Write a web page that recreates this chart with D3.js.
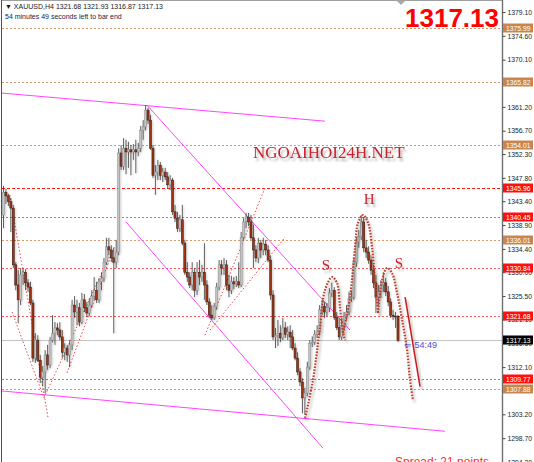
<!DOCTYPE html>
<html>
<head>
<meta charset="utf-8">
<script src="https://cdn.jsdelivr.net/npm/d3@7"></script>
<style>
body { margin: 0; background: #fff; }
svg { display: block; }
</style>
</head>
<body>
<div id="chart"></div>
<script>
// XAUUSD H4 candles, oldest first
var opens = [1340.8,1345.1,1344.4,1343.3,1342.1,1331.4,1327.6,1324.8,1329.5,1330.0,1328.0,1327.2,1324.2,1313.8,1317.2,1313.4,1310.2,1311.2,1314.4,1312.5,1317.2,1318.5,1319.5,1319.1,1317.8,1314.9,1315.7,1314.4,1316.3,1323.8,1322.5,1323.3,1320.6,1324.8,1323.3,1322.3,1323.8,1325.5,1326.6,1324.8,1328.2,1328.9,1331.9,1334.8,1334.2,1332.7,1331.9,1333.8,1352.5,1350.0,1353.4,1352.7,1353.1,1352.7,1353.1,1352.7,1353.4,1356.8,1357.4,1360.6,1358.7,1353.4,1348.3,1348.9,1350.2,1348.3,1348.9,1348.0,1346.5,1347.4,1341.4,1340.2,1338.3,1339.9,1335.5,1330.0,1329.1,1327.6,1330.0,1326.6,1330.0,1329.1,1330.0,1327.6,1324.4,1321.9,1321.4,1323.5,1327.2,1331.4,1330.8,1331.4,1327.6,1326.6,1328.2,1327.8,1328.2,1327.6,1336.6,1339.5,1340.4,1339.5,1336.5,1334.2,1332.7,1335.5,1334.2,1335.3,1334.2,1332.3,1325.7,1317.8,1318.1,1318.5,1317.6,1319.5,1318.3,1318.7,1317.8,1315.7,1313.8,1311.2,1309.3,1306.3,1307.2,1312.1,1316.6,1316.8,1318.3,1318.7,1322.9,1323.5,1322.5,1323.3,1326.1,1326.6,1321.5,1319.6,1317.8,1320.0,1321.7,1322.5,1325.1,1325.3,1331.9,1335.7,1336.8,1339.5,1334.6,1333.8,1332.3,1330.4,1328.0,1325.3,1326.3,1327.6,1328.0,1326.3,1324.4,1321.9,1321.7,1321.68];
var highs = [1346.3,1345.7,1344.8,1344.0,1342.7,1331.9,1330.4,1330.8,1330.8,1330.6,1328.7,1328.2,1324.8,1318.5,1318.1,1314.4,1312.3,1315.3,1316.3,1317.8,1321.9,1320.6,1320.4,1320.6,1319.1,1316.6,1316.3,1317.2,1324.8,1325.5,1324.8,1324.2,1326.1,1325.9,1324.4,1325.1,1326.6,1329.1,1328.2,1328.9,1330.0,1332.7,1336.5,1336.5,1335.1,1334.6,1336.1,1353.4,1354.0,1355.3,1355.0,1354.6,1354.0,1354.2,1355.0,1354.4,1357.6,1358.7,1361.5,1361.0,1359.7,1354.0,1350.2,1351.2,1350.8,1349.7,1349.7,1348.9,1348.3,1347.8,1342.7,1341.4,1340.8,1342.7,1336.1,1331.9,1330.0,1331.9,1330.8,1331.9,1332.3,1331.4,1335.5,1328.5,1325.1,1323.8,1324.2,1328.0,1332.3,1332.3,1332.7,1332.3,1329.5,1329.3,1329.1,1329.3,1331.9,1337.6,1340.2,1341.2,1341.2,1340.8,1339.0,1335.1,1336.5,1336.1,1336.5,1336.1,1335.1,1333.1,1326.6,1319.5,1321.0,1320.0,1321.4,1320.6,1319.8,1320.0,1319.1,1316.6,1314.9,1311.9,1310.0,1308.2,1313.1,1317.2,1317.9,1319.1,1320.0,1323.8,1324.8,1324.4,1324.2,1327.0,1328.0,1327.2,1322.5,1321.4,1321.4,1322.5,1323.8,1326.3,1326.6,1332.7,1336.5,1338.0,1340.8,1340.4,1336.1,1334.9,1333.2,1331.4,1329.5,1327.6,1328.5,1330.0,1328.9,1327.4,1325.1,1322.9,1322.5,1321.93];
var lows = [1338.3,1342.9,1342.5,1337.6,1330.8,1326.6,1320.4,1323.8,1327.6,1326.6,1326.3,1323.8,1313.1,1312.9,1313.1,1309.1,1308.5,1307.2,1311.6,1311.9,1316.8,1316.3,1318.1,1317.2,1313.8,1313.4,1313.1,1312.1,1315.3,1321.4,1320.0,1319.8,1320.2,1322.5,1321.5,1321.7,1323.3,1324.8,1324.2,1324.2,1326.6,1328.2,1331.4,1333.2,1331.9,1318.5,1330.8,1333.2,1349.3,1349.3,1348.5,1349.7,1348.3,1351.2,1348.7,1351.9,1352.7,1355.0,1356.8,1358.0,1353.1,1347.8,1344.6,1347.4,1347.4,1347.0,1347.4,1345.9,1345.5,1340.8,1339.5,1337.6,1337.6,1335.1,1329.5,1328.2,1327.0,1326.6,1325.3,1325.7,1327.6,1328.2,1324.8,1323.8,1321.4,1321.0,1321.0,1322.9,1326.6,1329.5,1329.5,1326.6,1325.3,1325.9,1326.8,1327.2,1327.0,1327.2,1336.1,1338.3,1338.7,1336.1,1330.8,1331.9,1331.7,1332.7,1333.2,1333.2,1331.9,1324.8,1317.2,1315.7,1316.1,1316.8,1317.2,1317.6,1317.2,1315.7,1315.3,1313.4,1310.6,1308.5,1303.4,1303.1,1306.6,1311.6,1315.9,1316.3,1317.6,1318.1,1321.9,1321.4,1321.7,1322.5,1325.3,1321.0,1319.1,1317.2,1317.2,1319.1,1321.0,1321.9,1324.4,1324.8,1331.0,1334.6,1336.1,1333.8,1332.7,1331.6,1329.5,1327.0,1322.3,1323.8,1325.1,1326.3,1325.5,1323.6,1321.4,1321.0,1319.5,1316.87];
var closes = [1345.1,1344.4,1343.3,1342.1,1331.4,1327.6,1324.8,1329.5,1330.0,1328.0,1327.2,1324.2,1313.8,1317.2,1313.4,1310.2,1311.2,1314.4,1312.5,1317.2,1318.5,1319.5,1319.1,1317.8,1314.9,1315.7,1314.4,1316.3,1323.8,1322.5,1323.3,1320.6,1324.8,1323.3,1322.3,1323.8,1325.5,1326.6,1324.8,1328.2,1328.9,1331.9,1334.8,1334.2,1332.7,1331.9,1333.8,1352.5,1350.0,1353.4,1352.7,1353.1,1352.7,1353.1,1352.7,1353.4,1356.8,1357.4,1360.6,1358.7,1353.4,1348.3,1348.9,1350.2,1348.3,1348.9,1348.0,1346.5,1347.4,1341.4,1340.2,1338.3,1339.9,1335.5,1330.0,1329.1,1327.6,1330.0,1326.6,1330.0,1329.1,1330.0,1327.6,1324.4,1321.9,1321.4,1323.5,1327.2,1331.4,1330.8,1331.4,1327.6,1326.6,1328.2,1327.8,1328.2,1327.6,1336.6,1339.5,1340.4,1339.5,1336.5,1334.2,1332.7,1335.5,1334.2,1335.3,1334.2,1332.3,1325.7,1317.8,1318.1,1318.5,1317.6,1319.5,1318.3,1318.7,1317.8,1315.7,1313.8,1311.2,1309.3,1306.3,1307.2,1312.1,1316.6,1316.8,1318.3,1318.7,1322.9,1323.5,1322.5,1323.3,1326.1,1326.6,1321.5,1319.6,1317.8,1320.0,1321.7,1322.5,1325.1,1325.3,1331.9,1335.7,1336.8,1339.5,1334.6,1333.8,1332.3,1330.4,1328.0,1325.3,1326.3,1327.6,1328.0,1326.3,1324.4,1321.9,1321.7,1321.68,1317.13];

// price scale tick labels
var axisTicks = [1379.10,1374.60,1370.10,1365.70,1361.20,1356.70,1352.30,1347.80,1343.40,1338.90,1334.40,1330.00,1325.50,1321.10,1316.60,1312.10,1307.70,1303.20,1298.70,1294.20];

// horizontal levels: "s" = tan, "r" = red
var levelPrices = [1375.99,1365.82,1354.01,1345.96,1340.45,1336.01,1330.84,1321.68,1309.77,1307.88];
var levelKinds  = ["s","s","s","r","r","s","r","r","r","s"];
var bidPrice = 1317.13;

// drawn objects in [bar index, price]
var channelLines = [
	[[-0.6,1363.8],[131.2,1358.5]],
	[[58.6,1361.5],[141.4,1319.1]],
	[[50.0,1339.5],[130.4,1296.8]],
	[[-0.6,1307.6],[180.2,1300.0]]
];
var patternLines = [
	[[2.6,1344.6],[18.2,1302.5]],
	[[3.5,1322.5],[16.5,1306.3]],
	[[16.5,1306.3],[43.5,1333.2]],
	[[25.9,1311.0],[45.5,1335.1]],
	[[82.2,1318.1],[106.7,1345.9]],
	[[84.3,1319.1],[114.9,1336.6]]
];
var leftShoulder = [[123.1,1302.5],[126.3,1309.7],[129.2,1319.7],[131.2,1326.6],[134.1,1329.1],[136.1,1328.0],[137.3,1323.5],[138.6,1318.5],[139.4,1317.2]];
var headArc = [[138.6,1318.5],[141.4,1325.3],[143.5,1334.8],[144.7,1339.3],[146.7,1340.8],[148.8,1339.3],[150.4,1334.8],[151.6,1328.5],[152.9,1322.3]];
var rightShoulder = [[152.9,1322.3],[154.5,1328.5],[156.5,1330.8],[158.6,1329.8],[160.6,1326.1],[162.7,1321.0],[164.7,1315.3],[165.9,1309.7],[167.1,1305.9]];
var arrowLine = [[163.9,1325.3],[170.0,1308.4]];
var patternLabels = [["S",131.6,1330.4],["H",149.2,1342.8],["S",161.4,1330.8]];

var width = 534, height = 462;
var plotLeft = 2, plotRight = 502;

var svg = d3.select("#chart").append("svg")
	.attr("width", width)
	.attr("height", height);

var defs = svg.append("defs");
defs.append("clipPath").attr("id", "plot")
	.append("rect")
	.attr("x", plotLeft).attr("y", 0)
	.attr("width", plotRight - plotLeft).attr("height", height);

function makeShadow(id, blur, dx, dy, alpha) {
	var f = defs.append("filter")
		.attr("id", id)
		.attr("x", "-30%").attr("y", "-30%")
		.attr("width", "160%").attr("height", "160%");
	f.append("feGaussianBlur")
		.attr("in", "SourceAlpha")
		.attr("stdDeviation", blur);
	f.append("feOffset")
		.attr("dx", dx)
		.attr("dy", dy);
	f.append("feComponentTransfer")
		.append("feFuncA")
			.attr("type", "linear")
			.attr("slope", alpha);
	var m = f.append("feMerge");
	m.append("feMergeNode");
	m.append("feMergeNode").attr("in", "SourceGraphic");
}
makeShadow("shadow", 1.3, 2, 3, 0.3);
makeShadow("candleShadow", 0.8, 1.2, 1.2, 0.22);

var x = d3.scaleLinear().domain([0, 161]).range([3.5, 398]);
var y = d3.scaleLinear().domain([1294.2, 1381.36]).range([height, 0]);

var plot = svg.append("g").attr("clip-path", "url(#plot)");

// level lines
levelPrices.forEach(function(p, i) {
	var red = levelKinds[i] === "r";
	plot.append("line")
		.attr("x1", plotLeft).attr("x2", plotRight)
		.attr("y1", Math.round(y(p)) + 0.5).attr("y2", Math.round(y(p)) + 0.5)
		.style("stroke", red ? (p === 1345.96 ? "#ff1a1a" : "#ff5a5a") : "#d49a6a")
		.style("stroke-width", 1)
		.style("stroke-dasharray", p === 1345.96 ? "3,2" : "2,2");
});

// bid line
plot.append("line")
	.attr("x1", plotLeft).attr("x2", plotRight)
	.attr("y1", Math.round(y(bidPrice)) + 0.5).attr("y2", Math.round(y(bidPrice)) + 0.5)
	.style("stroke", "#c4c4c4");

// magenta channels
var seg = d3.line().x(function(d) { return x(d[0]); }).y(function(d) { return y(d[1]); });
channelLines.forEach(function(l) {
	plot.append("path").attr("d", seg(l))
		.style("fill", "none")
		.style("stroke", "#ff44ff")
		.style("stroke-width", 1);
});

// thin red pattern lines
patternLines.forEach(function(l) {
	plot.append("path").attr("d", seg(l))
		.style("fill", "none")
		.style("stroke", "#f04848")
		.style("stroke-width", 1)
		.style("stroke-dasharray", "1.5,2");
});

// candles
var candles = closes.map(function(c, i) {
	return { i: i, o: opens[i], h: highs[i], l: lows[i], c: c };
});
var bodyW = 2.1;
var cg = plot.append("g").style("filter", "url(#candleShadow)");
cg.selectAll(".wick").data(candles).join("line")
	.attr("x1", function(d) { return x(d.i); })
	.attr("x2", function(d) { return x(d.i); })
	.attr("y1", function(d) { return y(d.h); })
	.attr("y2", function(d) { return y(d.l); })
	.style("stroke", "#3a3a3a")
	.style("stroke-width", 0.8);
cg.selectAll(".body").data(candles).join("rect")
	.attr("x", function(d) { return x(d.i) - bodyW / 2; })
	.attr("y", function(d) { return y(Math.max(d.o, d.c)); })
	.attr("width", bodyW)
	.attr("height", function(d) { return Math.max(0.8, Math.abs(y(d.o) - y(d.c))); })
	.style("fill", function(d) { return d.c >= d.o ? "#c4c4c4" : "#9a3418"; })
	.style("stroke", function(d) { return d.c >= d.o ? "#8a8a8a" : "#3a1a10"; })
	.style("stroke-width", 0.5);

// head and shoulders outline
var curve = d3.line()
	.x(function(d) { return x(d[0]); })
	.y(function(d) { return y(d[1]); })
	.curve(d3.curveCatmullRom);
[leftShoulder, headArc, rightShoulder].forEach(function(pts) {
	plot.append("path").attr("d", curve(pts))
		.style("fill", "none")
		.style("stroke", "#b8402e")
		.style("stroke-width", 2.2)
		.style("stroke-dasharray", "1.6,1.4")
		.style("filter", "url(#shadow)");
});

plot.append("path").attr("d", seg(arrowLine))
	.style("fill", "none")
	.style("stroke", "#c81e1e")
	.style("stroke-width", 1.5)
	.style("filter", "url(#shadow)");

patternLabels.forEach(function(t) {
	plot.append("text")
		.attr("x", x(t[1]))
		.attr("y", y(t[2]))
		.style("fill", "#c8202a")
		.style("font-family", "'Liberation Serif', 'Times New Roman', serif")
		.style("font-size", "15px")
		.style("text-anchor", "middle")
		.style("filter", "url(#shadow)")
		.text(t[0]);
});

// watermark
svg.append("text")
	.attr("x", 253).attr("y", 158)
	.style("fill", "#c4202c")
	.style("font-family", "'Liberation Serif', 'Times New Roman', serif")
	.style("font-size", "17px")
	.style("filter", "url(#shadow)")
	.text("NGOAIHOI24H.NET");

// frame
svg.append("line").attr("x1", 1.5).attr("x2", 1.5).attr("y1", 0).attr("y2", height)
	.style("stroke", "#505050");
svg.append("line").attr("x1", plotLeft).attr("x2", plotRight).attr("y1", 0.5).attr("y2", 0.5)
	.style("stroke", "#a0a0a0");
svg.append("line").attr("x1", plotRight + 0.5).attr("x2", plotRight + 0.5).attr("y1", 0).attr("y2", height)
	.style("stroke", "#707070")
	.style("stroke-width", 1.4);

// price axis
var axis = d3.axisRight(y)
	.tickValues(axisTicks)
	.tickSize(3)
	.tickPadding(2)
	.tickFormat(d3.format(".2f"));
var ag = svg.append("g")
	.attr("transform", "translate(" + (plotRight + 0.5) + ",0)")
	.call(axis);
ag.select(".domain").remove();
ag.selectAll("line").style("stroke", "#444");
ag.selectAll("text")
	.style("font-family", "'Liberation Sans', Arial, sans-serif")
	.style("font-size", "6.8px")
	.style("fill", "#222");

function priceTag(p, bg) {
	var yy = Math.round(y(p));
	svg.append("rect")
		.attr("x", plotRight + 1).attr("y", yy - 4.5)
		.attr("width", 30).attr("height", 9)
		.style("fill", bg);
	svg.append("text")
		.attr("x", plotRight + 4).attr("y", yy + 2.5)
		.style("fill", "#fff")
		.style("font-family", "'Liberation Sans', Arial, sans-serif")
		.style("font-size", "6.8px")
		.text(d3.format(".2f")(p));
}
levelPrices.forEach(function(p, i) {
	priceTag(p, levelKinds[i] === "r" ? "#ff1010" : "#c9854d");
});
priceTag(bidPrice, "#000");

// header
svg.append("text")
	.attr("x", 5).attr("y", 9)
	.style("fill", "#1a1a1a")
	.style("font-family", "'Liberation Sans', Arial, sans-serif")
	.style("font-size", "7px")
	.text("\u25BC XAUUSD,H4  " + d3.format(".2f")(opens[161]) + " " + highs[161] + " " + lows[161] + " " + closes[161]);
svg.append("text")
	.attr("x", 5).attr("y", 19)
	.style("fill", "#22224a")
	.style("font-family", "'Liberation Sans', Arial, sans-serif")
	.style("font-size", "7px")
	.text("54 minutes 49 seconds left to bar end");

svg.append("path")
	.attr("d", "M397,1 L405,1 L401,5 Z")
	.style("fill", "#a8a8a8");

svg.append("text")
	.attr("x", 499).attr("y", 27)
	.style("fill", "#ff0000")
	.style("font-family", "'Liberation Sans', Arial, sans-serif")
	.style("font-weight", "bold")
	.style("font-size", "26px")
	.style("text-anchor", "end")
	.text(d3.format(".2f")(bidPrice));

svg.append("text")
	.attr("x", 404).attr("y", y(bidPrice) + 8)
	.style("fill", "#4a4ae6")
	.style("font-family", "'Liberation Sans', Arial, sans-serif")
	.style("font-size", "9px")
	.text("\u21D0 54:49");

svg.append("text")
	.attr("x", 395).attr("y", 466)
	.style("fill", "#ff3030")
	.style("font-family", "'Liberation Sans', Arial, sans-serif")
	.style("font-size", "12px")
	.text("Spread: 21 points");
</script>
</body>
</html>
